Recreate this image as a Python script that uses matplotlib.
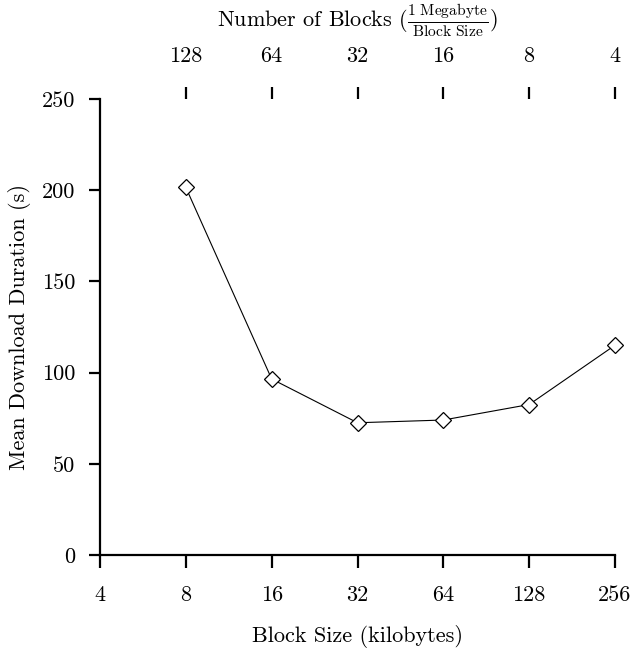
import matplotlib
matplotlib.use("Agg")
import matplotlib.pyplot as plt

plt.rcParams['font.family'] = 'serif'
plt.rcParams['font.serif'] = ['cmr10']
plt.rcParams['mathtext.fontset'] = 'cm'
plt.rcParams['axes.formatter.use_mathtext'] = True

block_sizes = [8, 16, 32, 64, 128, 256]
durations = [201.5, 96.5, 72.5, 74.0, 82.5, 115.0]
bottom_ticks = [4, 8, 16, 32, 64, 128, 256]
top_ticks = [8, 16, 32, 64, 128, 256]
top_labels = ["128", "64", "32", "16", "8", "4"]
y_ticks = [0, 50, 100, 150, 200, 250]

FS = 16

fig = plt.figure(figsize=(6.34, 6.48), dpi=100)
ax = fig.add_axes([100/634, 1-555/648, 515/634, 456/648])

ax.plot(block_sizes, durations, color='black', linewidth=0.8,
        marker='D', markersize=8.5, markerfacecolor='white',
        markeredgecolor='black', markeredgewidth=0.9, clip_on=False, zorder=3)

ax.set_xscale('log', base=2)
ax.set_xlim(4, 256)
ax.set_ylim(0, 250)
ax.set_xticks(bottom_ticks)
ax.set_xticklabels([str(v) for v in bottom_ticks])
ax.minorticks_off()
ax.set_yticks(y_ticks)
ax.set_yticklabels([str(v) for v in y_ticks])

for s in ['top', 'right']:
    ax.spines[s].set_visible(False)
for s in ['left', 'bottom']:
    ax.spines[s].set_linewidth(1.6)

ax.tick_params(axis='x', direction='out', length=9, width=1.6,
               labelsize=FS, pad=13)
ax.tick_params(axis='y', direction='out', length=8, width=1.6,
               labelsize=FS, pad=10)

ax.set_xlabel('Block Size (kilobytes)', fontsize=FS, labelpad=14)
ax.set_ylabel('Mean Download Duration (s)', fontsize=FS, labelpad=8)

ax2 = ax.twiny()
ax2.set_xscale('log', base=2)
ax2.set_xlim(ax.get_xlim())
ax2.set_xticks(top_ticks)
ax2.set_xticklabels(top_labels)
ax2.minorticks_off()
for s in ['top', 'right', 'left', 'bottom']:
    ax2.spines[s].set_visible(False)
ax2.tick_params(axis='x', direction='out', length=9, width=1.6,
                labelsize=FS, pad=15)
ax2.set_xlabel(r'Number of Blocks ($\frac{\mathrm{1\ Megabyte}}{\mathrm{Block\ Size}}$)',
               fontsize=FS, labelpad=14)

fig.savefig('out.png', dpi=100)
